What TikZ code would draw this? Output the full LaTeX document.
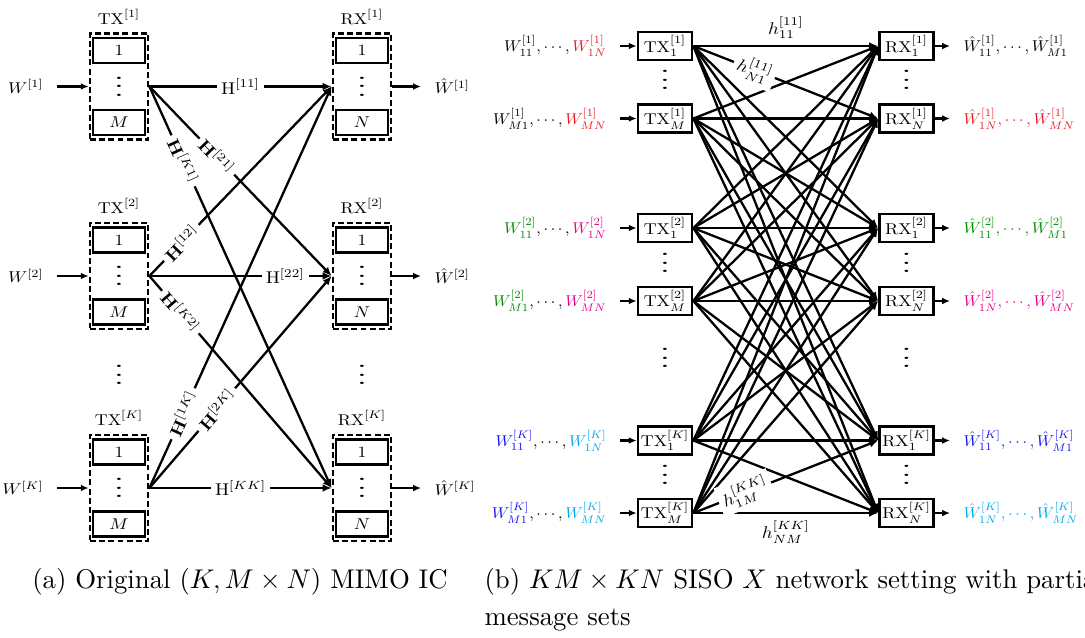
\documentclass[tikz,border=0pt]{standalone}
\usepackage{graphicx}
\usetikzlibrary{arrows.meta}

\definecolor{cRed}{RGB}{237,28,36}
\definecolor{cGreen}{RGB}{0,140,0}
\definecolor{cPink}{RGB}{236,0,140}
\definecolor{cBlue}{RGB}{20,20,245}
\definecolor{cCyan}{RGB}{0,170,240}

% the figure text is a shrunken 10pt set, a little wider than tall
\newcommand\dtxt[1]{\scalebox{0.66}[0.58]{#1}}
\newcommand\mtxt[1]{\scalebox{0.6}[0.58]{#1}}
\newcommand\htxt[1]{\scalebox{0.7}[0.63]{#1}}
\newcommand\vdts{\scalebox{1.3}[0.8]{\vbox{\baselineskip4pt\lineskiplimit0pt\hbox{.}\hbox{.}\hbox{.}}}}
\newcommand\captxt[1]{\scalebox{0.99}[1]{#1}}

\begin{document}
\begin{tikzpicture}[x=0.37pt,y=-0.37pt,
  obox/.style={draw,line width=1pt,dash pattern=on 2.2pt off 1.2pt,
    minimum width=21.5pt,minimum height=39.2pt,inner sep=0pt},
  ibox/.style={draw,line width=0.85pt,minimum width=19.2pt,minimum height=9.3pt,inner sep=0pt},
  rbox/.style={draw,line width=1pt,minimum width=20pt,minimum height=10.4pt,inner sep=0pt},
  msg/.style={inner xsep=4.8pt,inner ysep=0pt},
  link/.style={line width=0.85pt,-{Latex[length=3.3pt,width=2.8pt]}},
  arr/.style={line width=0.85pt,-{Latex[length=2.9pt,width=2.5pt]}},
  hl/.style={fill=white,inner sep=1.5pt},
  dts/.style={inner sep=0pt}]
\useasboundingbox (0,0) rectangle (1085,637);

% ---------------- (a) MIMO interference channel ----------------
\foreach \n/\y/\s in {1/86.5/1,2/276/2,k/488/K}{
  \node[obox] (tx\n) at (119,\y) {};
  \node[ibox] (tx\n t) at (119,\y-36) {\dtxt{$1$}};
  \node[ibox] (tx\n b) at (119,\y+36) {\dtxt{$M$}};
  \node[dts] (tx\n d) at (119,\y) {\vdts};
  \node (tx\n h) at (119,\y-70) {\dtxt{$\mathrm{TX}^{[\s]}$}};
  \node[obox] (rx\n) at (362,\y) {};
  \node[ibox] (rx\n t) at (362,\y-36) {\dtxt{$1$}};
  \node[ibox] (rx\n b) at (362,\y+36) {\dtxt{$N$}};
  \node[dts] (rx\n d) at (362,\y) {\vdts};
  \node (rx\n h) at (362,\y-70) {\dtxt{$\mathrm{RX}^{[\s]}$}};
  \node[msg,anchor=east] (w\n) at (57,\y) {\dtxt{$W^{[\s]}$}};
  \node[msg,anchor=west] (wh\n) at (421,\y) {\dtxt{$\hat{W}^{[\s]}$}};
  \draw[arr] (w\n.east) -- (tx\n.west);
  \draw[arr] (rx\n.east) -- (wh\n.west);
}
\node[dts] (txgap) at (119,375) {\vdts};
\node[dts] (rxgap) at (362,375) {\vdts};

\draw[link] (tx1.east) -- node[hl]{\htxt{$\mathrm{H}^{[11]}$}} (rx1.west);
\draw[link] (tx1.east) -- node[hl,sloped,pos=0.37]{\htxt{$\mathbf{H}^{[21]}$}} (rx2.west);
\draw[link] (tx1.east) -- node[hl,sloped,pos=0.185]{\htxt{$\mathbf{H}^{[K1]}$}} (rxk.west);
\draw[link] (tx2.east) -- node[hl,sloped,pos=0.175]{\htxt{$\mathbf{H}^{[12]}$}} (rx1.west);
\draw[link] (tx2.east) -- node[hl,pos=0.745]{\htxt{$\mathrm{H}^{[22]}$}} (rx2.west);
\draw[link] (tx2.east) -- node[hl,sloped,pos=0.17]{\htxt{$\mathbf{H}^{[K2]}$}} (rxk.west);
\draw[link] (txk.east) -- node[hl,sloped,pos=0.185]{\htxt{$\mathbf{H}^{[1K]}$}} (rx1.west);
\draw[link] (txk.east) -- node[hl,sloped,pos=0.37]{\htxt{$\mathbf{H}^{[2K]}$}} (rx2.west);
\draw[link] (txk.east) -- node[hl,pos=0.5]{\htxt{$\mathrm{H}^{[KK]}$}} (rxk.west);

% ---------------- (b) SISO X network ----------------
\foreach \n/\y/\g/\i in {11/46/1/1,1m/118.5/1/M,21/228/2/1,2m/301/2/M,k1/440.5/K/1,km/513/K/M}{
  \node[rbox] (t\n) at (665,\y) {\dtxt{$\mathrm{TX}^{[\g]}_{\i}$}};
}
\foreach \n/\y/\g/\i in {11/46/1/1,1n/118.5/1/N,21/228/2/1,2n/301/2/N,k1/440.5/K/1,kn/513/K/N}{
  \node[rbox] (r\n) at (906.5,\y) {\dtxt{$\mathrm{RX}^{[\g]}_{\i}$}};
}
\foreach \n/\y in {a/80,b/263,c/475,g/358}{
  \node[dts] (td\n) at (665,\y) {\vdts};
  \node[dts] (rd\n) at (906.5,\y) {\vdts};
}

% messages entering the transmitters
\node[msg,anchor=east] (m11) at (620,46) {\mtxt{$W^{[1]}_{11},\cdots,\textcolor{cRed}{W^{[1]}_{1N}}$}};
\node[msg,anchor=east] (m1m) at (620,118.5) {\mtxt{$W^{[1]}_{M1},\cdots,\textcolor{cRed}{W^{[1]}_{MN}}$}};
\node[msg,anchor=east] (m21) at (620,228) {\mtxt{$\textcolor{cGreen}{W^{[2]}_{11}},\cdots,\textcolor{cPink}{W^{[2]}_{1N}}$}};
\node[msg,anchor=east] (m2m) at (620,301) {\mtxt{$\textcolor{cGreen}{W^{[2]}_{M1}},\cdots,\textcolor{cPink}{W^{[2]}_{MN}}$}};
\node[msg,anchor=east] (mk1) at (620,440.5) {\mtxt{$\textcolor{cBlue}{W^{[K]}_{11}},\cdots,\textcolor{cCyan}{W^{[K]}_{1N}}$}};
\node[msg,anchor=east] (mkm) at (620,513) {\mtxt{$\textcolor{cBlue}{W^{[K]}_{M1}},\cdots,\textcolor{cCyan}{W^{[K]}_{MN}}$}};
\foreach \n in {11,1m,21,2m,k1,km}{ \draw[arr] (m\n.east) -- (t\n.west); }

% decoded messages
\node[msg,anchor=west] (d11) at (950,46) {\mtxt{$\hat{W}^{[1]}_{11},\cdots,\hat{W}^{[1]}_{M1}$}};
\node[msg,anchor=west,text=cRed] (d1n) at (950,118.5) {\mtxt{$\hat{W}^{[1]}_{1N},\cdots,\hat{W}^{[1]}_{MN}$}};
\node[msg,anchor=west,text=cGreen] (d21) at (950,228) {\mtxt{$\hat{W}^{[2]}_{11},\cdots,\hat{W}^{[2]}_{M1}$}};
\node[msg,anchor=west,text=cPink] (d2n) at (950,301) {\mtxt{$\hat{W}^{[2]}_{1N},\cdots,\hat{W}^{[2]}_{MN}$}};
\node[msg,anchor=west,text=cBlue] (dk1) at (950,440.5) {\mtxt{$\hat{W}^{[K]}_{11},\cdots,\hat{W}^{[K]}_{M1}$}};
\node[msg,anchor=west,text=cCyan] (dkn) at (950,513) {\mtxt{$\hat{W}^{[K]}_{1N},\cdots,\hat{W}^{[K]}_{MN}$}};
\foreach \n in {11,1n,21,2n,k1,kn}{ \draw[arr] (r\n.east) -- (d\n.west); }

% every transmit antenna reaches every receive antenna
\foreach \a in {11,1m,21,2m,k1,km}{
  \foreach \b in {11,1n,21,2n,k1,kn}{
    \draw[link] (t\a.east) -- (r\b.west);
  }
}
\path (t11.east) -- node[above=2.5pt,inner sep=0pt]{\htxt{$h^{[11]}_{11}$}} (r11.west);
\path (t11.east) -- node[hl,sloped,pos=0.33]{\htxt{$h^{[11]}_{N1}$}} (r1n.west);
\path (tkm.east) -- node[hl,sloped,pos=0.28]{\htxt{$h^{[KK]}_{1M}$}} (rk1.west);
\path (tkm.east) -- node[below=2.5pt,inner sep=0pt]{\htxt{$h^{[KK]}_{NM}$}} (rkn.west);

% ---------------- captions ----------------
\node[anchor=base,inner sep=0pt] (capa) at (240,588) {\captxt{(a) Original $(K,M\times N)$ MIMO IC}};
\node[anchor=base west,inner sep=0pt] (capb) at (484,588) {\captxt{(b) $KM\times KN$ SISO $X$ network setting with partial}};
\node[anchor=base west,inner sep=0pt] (capb2) at (484,625) {\captxt{message sets}};
\end{tikzpicture}
\end{document}
